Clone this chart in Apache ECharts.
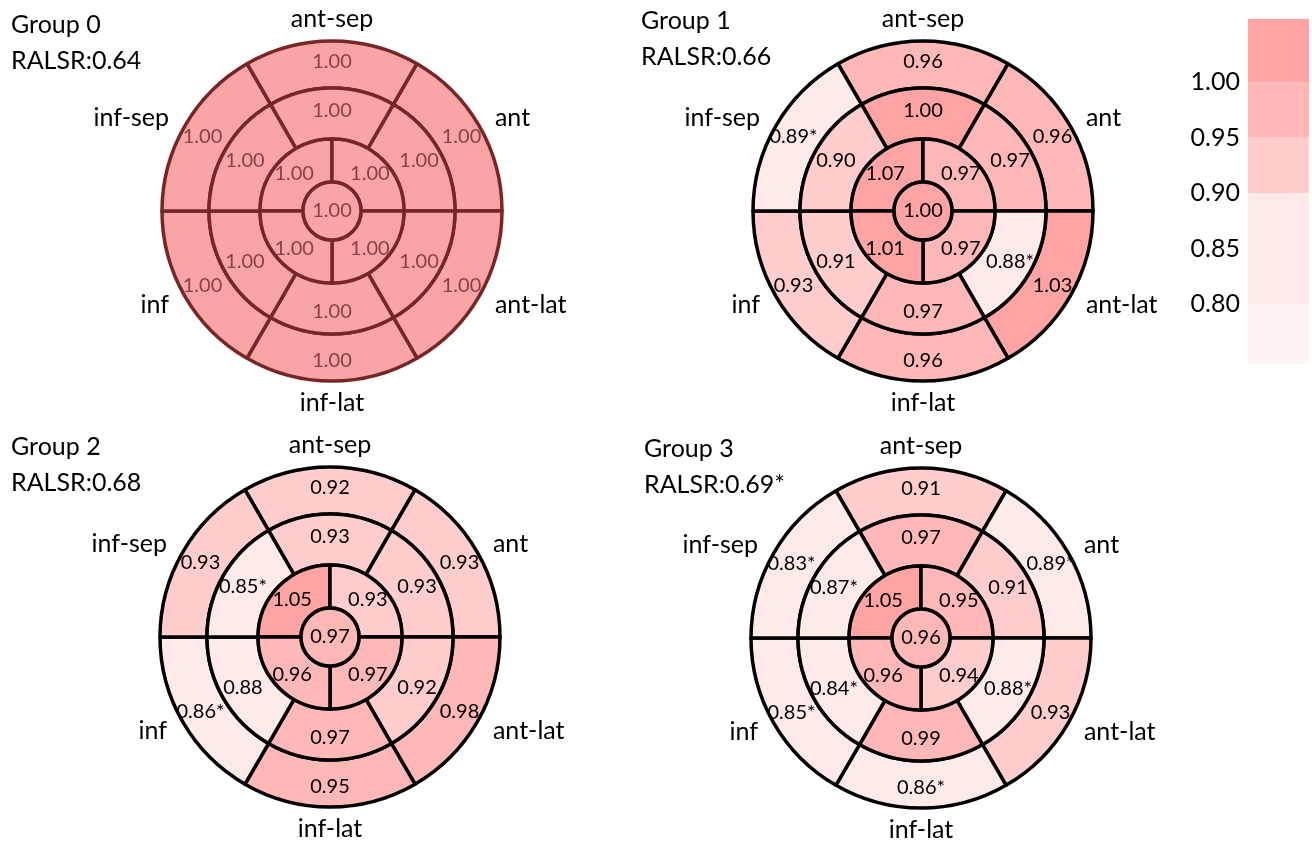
<!DOCTYPE html>
<html>
<head>
<meta charset="utf-8">
<script src="https://cdn.jsdelivr.net/npm/echarts@6/dist/echarts.min.js"></script>
<style>
  html, body { margin: 0; padding: 0; background: #ffffff; }
  #chart { width: 1312px; height: 847px; }
</style>
</head>
<body>
<div id="chart"></div>
<script>
// Bull's-eye plots of regional strain ratios, one per group.
const groupNames = ['Group 0', 'Group 1', 'Group 2', 'Group 3'];
const ralsrValues = [0.64, 0.66, 0.68, 0.69];
const ralsrSig = [false, false, false, true];

// Wall names around the basal / mid rings, clockwise from 12 o'clock
const segmentNames = ['ant-sep', 'ant', 'ant-lat', 'inf-lat', 'inf', 'inf-sep'];

// Basal ring values (same order as segmentNames)
const basalValues = [
  [1.00, 1.00, 1.00, 1.00, 1.00, 1.00],
  [0.96, 0.96, 1.03, 0.96, 0.93, 0.89],
  [0.92, 0.93, 0.98, 0.95, 0.86, 0.93],
  [0.91, 0.89, 0.93, 0.86, 0.85, 0.83]
];
const basalSig = [
  [0, 0, 0, 0, 0, 0],
  [0, 0, 0, 0, 0, 1],
  [0, 0, 0, 0, 1, 0],
  [0, 1, 0, 1, 1, 1]
];

// Mid ring values (same order as segmentNames)
const midValues = [
  [1.00, 1.00, 1.00, 1.00, 1.00, 1.00],
  [1.00, 0.97, 0.88, 0.97, 0.91, 0.90],
  [0.93, 0.93, 0.92, 0.97, 0.88, 0.85],
  [0.97, 0.91, 0.88, 0.99, 0.84, 0.87]
];
const midSig = [
  [0, 0, 0, 0, 0, 0],
  [0, 0, 1, 0, 0, 0],
  [0, 0, 0, 0, 0, 1],
  [0, 0, 1, 0, 1, 1]
];

// Apical ring values, clockwise from 9 o'clock (upper-left, upper-right, lower-right, lower-left)
const apicalValues = [
  [1.00, 1.00, 1.00, 1.00],
  [1.07, 0.97, 0.97, 1.01],
  [1.05, 0.93, 0.97, 0.96],
  [1.05, 0.95, 0.94, 0.96]
];

// Apex values
const apexValues = [1.00, 1.00, 0.97, 0.96];

// Colour bins: edges and the colour of each bin (lowest first)
const binEdges = [0.80, 0.90, 0.95, 1.00];
const binColors = ['#fff3f3', '#ffeaea', '#ffcdcd', '#ffb8b8', '#ffa4a4'];
const scaleTicks = [0.80, 0.85, 0.90, 0.95, 1.00];
const scaleMin = 0.746;
const scaleMax = 1.057;

// ---- layout ----
const centers = [[332, 211], [923, 211], [330, 637], [921, 638]];
const R = 170;                         // outer radius
const ringRadii = [R, 123, 72, 29];    // basal outer, mid outer, apical outer, apex
const titlePos = [[11, 7], [641, 3], [11, 429], [644, 431]];
const LABEL_SPAN = 1.3;                // polar frame extends past the plot for wall names

const FONT = 'Lato, "Open Sans", sans-serif';

function colorOf(v) {
  let k = 0;
  while (k < binEdges.length && v >= binEdges[k] - 1e-9) k++;
  return binColors[k];
}

// Reference group (Group 0) is drawn in a muted red scheme
const refStyle = { fill: '#f9a5a5', line: '#772626', text: '#8e3f3f' };

function ringSeries(gi, values, sig, r0, r1, startAngle, isApex) {
  const ref = gi === 0;
  return {
    type: 'pie',
    center: centers[gi],
    radius: [r0, r1],
    startAngle: startAngle,
    clockwise: true,
    silent: true,
    animation: false,
    avoidLabelOverlap: false,
    z: 2,
    label: {
      show: true,
      position: isApex ? 'center' : 'inside',
      formatter: p => p.data.text,
      fontFamily: FONT,
      fontSize: 20,
      color: ref ? refStyle.text : '#000000'
    },
    labelLine: { show: false },
    emphasis: { disabled: true },
    itemStyle: {
      borderColor: ref ? refStyle.line : '#000000',
      borderWidth: 3.5
    },
    data: values.map((v, i) => ({
      value: 1,
      text: v.toFixed(2) + (sig && sig[i] ? '*' : ''),
      itemStyle: { color: ref ? refStyle.fill : colorOf(v) }
    }))
  };
}

const series = [];
const polar = [];
const angleAxis = [];
const radiusAxis = [];
const title = [];

groupNames.forEach((g, gi) => {
  series.push(ringSeries(gi, basalValues[gi], basalSig[gi], ringRadii[1], ringRadii[0], 120));
  series.push(ringSeries(gi, midValues[gi], midSig[gi], ringRadii[2], ringRadii[1], 120));
  series.push(ringSeries(gi, apicalValues[gi], null, ringRadii[3], ringRadii[2], 180));
  series.push(ringSeries(gi, [apexValues[gi]], null, 0, ringRadii[3], 90, true));

  // polar frame used to place the wall names around each plot (radius 1 = outer ring)
  polar.push({ center: centers[gi], radius: R * LABEL_SPAN });
  angleAxis.push({ polarIndex: gi, type: 'value', min: 0, max: 360, startAngle: 0, clockwise: false, show: false });
  radiusAxis.push({ polarIndex: gi, type: 'value', min: 0, max: LABEL_SPAN, show: false });

  series.push({
    type: 'scatter',
    coordinateSystem: 'polar',
    polarIndex: gi,
    symbol: 'circle',
    symbolSize: 2,
    silent: true,
    animation: false,
    z: 5,
    itemStyle: { color: 'rgba(255,255,255,0)', opacity: 1 },
    label: {
      show: true,
      formatter: '{b}',
      fontFamily: FONT,
      fontSize: 25,
      color: '#000000',
      opacity: 1,
      distance: 0
    },
    data: segmentNames.map((name, k) => {
      const angle = 90 - 60 * k;
      const a = ((angle % 360) + 360) % 360;
      let position = 'inside';
      if ((a > 0 && a < 90) || a > 270) position = 'right';
      else if (a > 90 && a < 270) position = 'left';
      const r = position === 'inside' ? 1.13 : 1.10;
      return { name: name, value: [r, angle], label: { position: position } };
    })
  });

  title.push({
    text: g + '\nRALSR:' + ralsrValues[gi].toFixed(2) + (ralsrSig[gi] ? '*' : ''),
    left: titlePos[gi][0],
    top: titlePos[gi][1],
    padding: 0,
    textStyle: { fontFamily: FONT, fontSize: 25, fontWeight: 'normal', color: '#000000', lineHeight: 36 }
  });
});

// Colour scale drawn as a stacked bar on its own value axis
const pieces = [];
let prev = 0;
binEdges.forEach(e => { pieces.push(e - prev); prev = e; });
pieces.push(scaleMax - prev);
pieces.forEach((size, k) => {
  series.push({
    type: 'bar',
    xAxisIndex: 0,
    yAxisIndex: 0,
    stack: 'scale',
    barWidth: '100%',
    silent: true,
    animation: false,
    itemStyle: { color: binColors[k] },
    data: [size]
  });
});

const chart = echarts.init(document.getElementById('chart'), null, { renderer: 'canvas' });
chart.setOption({
  backgroundColor: '#ffffff',
  animation: false,
  title: title,
  polar: polar,
  angleAxis: angleAxis,
  radiusAxis: radiusAxis,
  grid: [{ left: 1248, top: 19, width: 61, height: 345 }],
  xAxis: [{ type: 'category', data: ['scale'], show: false, gridIndex: 0 }],
  yAxis: [{
    type: 'value',
    gridIndex: 0,
    min: scaleMin,
    max: scaleMax,
    axisLine: { show: false },
    axisTick: { show: false },
    splitLine: { show: false },
    axisLabel: {
      customValues: scaleTicks,
      formatter: v => v.toFixed(2),
      fontFamily: FONT,
      fontSize: 25,
      color: '#000000',
      margin: 8
    }
  }],
  series: series
});
</script>
</body>
</html>
